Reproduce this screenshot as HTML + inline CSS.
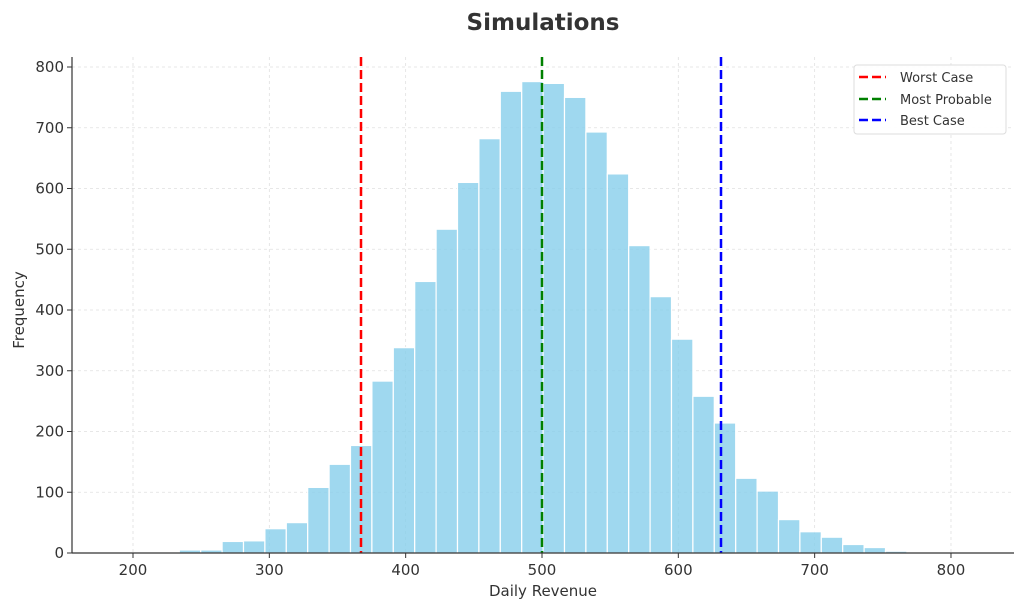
<!DOCTYPE html>
<html><head><meta charset="utf-8"><style>
html,body{margin:0;padding:0;background:#fff;}
svg{display:block;font-family:"DejaVu Sans","Liberation Sans",sans-serif;}
</style></head><body>
<svg id="s" width="1024" height="609" viewBox="0 0 1024 609" xmlns="http://www.w3.org/2000/svg">
<text x="543" y="30" text-anchor="middle" font-size="23" font-weight="bold" fill="#333">Simulations</text>
<g id="grid" stroke="#e0e0e0" stroke-width="0.8" stroke-dasharray="3,3"></g>
<g id="bars" fill="#87ceeb" fill-opacity="0.8" stroke="#fff" stroke-width="1.2"></g>
<line x1="361" y1="57" x2="361" y2="553" stroke="#f00" stroke-width="2.5" stroke-dasharray="9,4"/>
<line x1="542" y1="57" x2="542" y2="553" stroke="#008000" stroke-width="2.5" stroke-dasharray="9,4"/>
<line x1="721" y1="57" x2="721" y2="553" stroke="#00f" stroke-width="2.5" stroke-dasharray="9,4"/>
<line x1="72" y1="57" x2="72" y2="553" stroke="#333" stroke-width="1.2"/>
<line x1="72" y1="553" x2="1014" y2="553" stroke="#333" stroke-width="1.2"/>
<g id="ticks" stroke="#333" stroke-width="1"></g>
<g id="lab" font-size="15" fill="#333"></g>
<text x="543" y="596" text-anchor="middle" font-size="15" fill="#333">Daily Revenue</text>
<text transform="translate(24,310) rotate(-90)" text-anchor="middle" font-size="15" fill="#333">Frequency</text>
<rect x="854" y="65" width="152" height="69" rx="3" fill="#fff" fill-opacity="0.9" stroke="#ddd"/>
<line x1="859" y1="77" x2="886" y2="77" stroke="#f00" stroke-width="2.5" stroke-dasharray="9,4"/>
<line x1="859" y1="99" x2="886" y2="99" stroke="#008000" stroke-width="2.5" stroke-dasharray="9,4"/>
<line x1="859" y1="120" x2="886" y2="120" stroke="#00f" stroke-width="2.5" stroke-dasharray="9,4"/>
<g font-size="13" fill="#333">
<text x="900" y="82">Worst Case</text>
<text x="900" y="104">Most Probable</text>
<text x="900" y="125">Best Case</text>
</g>
</svg>
<script>
var NS="http://www.w3.org/2000/svg";
function el(p,t,a,txt){var e=document.createElementNS(NS,t);for(var k in a)e.setAttribute(k,a[k]);if(txt!=null)e.textContent=txt;document.getElementById(p).appendChild(e);}
var y0=553,sy=0.6075;
for(var v=100;v<=800;v+=100){var y=y0-v*sy;el("grid","line",{x1:72,x2:1014,y1:y,y2:y});}
for(var v=0;v<=800;v+=100){var y=y0-v*sy;el("ticks","line",{x1:67,x2:72,y1:y,y2:y});el("lab","text",{x:64,y:y+5,"text-anchor":"end"},v);}
for(var v=200;v<=800;v+=100){var x=133+(v-200)*1.3633;el("grid","line",{x1:x,x2:x,y1:57,y2:553});el("ticks","line",{x1:x,x2:x,y1:553,y2:558});el("lab","text",{x:x,y:575,"text-anchor":"middle"},v);}
var c=[5,5,19,20,40,50,108,146,177,283,338,447,533,610,682,760,776,773,750,693,624,506,422,352,258,214,123,102,55,35,26,14,9,3];
for(var i=0;i<c.length;i++){var x=179.3+21.4*i,h=c[i]*sy;el("bars","rect",{x:x,y:y0-h,width:21.4,height:h});}
</script>
</body></html>
